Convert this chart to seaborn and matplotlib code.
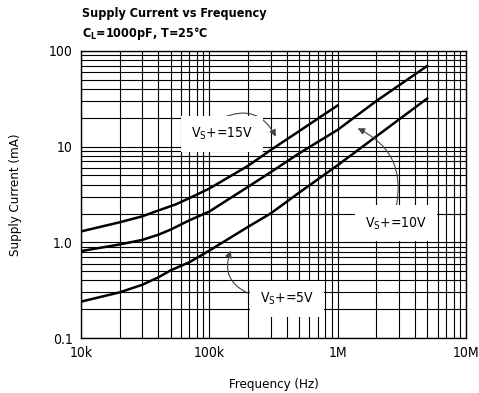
import matplotlib
matplotlib.use("Agg")
import matplotlib.pyplot as plt
import seaborn as sns
import pandas as pd
import numpy as np
from matplotlib.ticker import FixedLocator, NullFormatter, LogLocator

# ---- data ----
freq_15v = [1e4, 2e4, 3e4, 4e4, 5.5e4, 7e4, 1e5, 2e5, 3e5, 5e5, 1e6]
curr_15v = [1.3, 1.62, 1.87, 2.15, 2.5, 2.9, 3.65, 6.3, 9.2, 14.5, 27]
freq_10v = [1e4, 2e4, 3e4, 4e4, 5e4, 7e4, 1e5, 2e5, 3e5, 5e5, 1e6, 2e6, 5e6]
curr_10v = [0.81, 0.95, 1.06, 1.2, 1.36, 1.7, 2.1, 3.8, 5.4, 8.5, 15, 30, 70]
freq_5v = [1e4, 2e4, 3e4, 4e4, 5e4, 7e4, 1e5, 2e5, 3e5, 5e5, 1e6, 2e6, 5e6]
curr_5v = [0.24, 0.30, 0.36, 0.43, 0.51, 0.62, 0.82, 1.45, 2.0, 3.3, 6.4, 12.8, 32]
series = ["15V", "10V", "5V"]

x_ticks = [1e4, 1e5, 1e6, 1e7]
x_labels = ["10k", "100k", "1M", "10M"]
y_ticks = [0.1, 1, 10, 100]
y_labels = ["0.1", "1.0", "10", "100"]

df = pd.concat([
    pd.DataFrame({"f": freq_15v, "i": curr_15v, "s": series[0]}),
    pd.DataFrame({"f": freq_10v, "i": curr_10v, "s": series[1]}),
    pd.DataFrame({"f": freq_5v, "i": curr_5v, "s": series[2]}),
])

sns.set_theme(style="white")
plt.rcParams["font.family"] = ["DejaVu Sans"]
plt.rcParams["font.stretch"] = "condensed"
plt.rcParams["mathtext.fontset"] = "custom"
plt.rcParams["mathtext.rm"] = "DejaVu Sans:stretch=condensed"
plt.rcParams["mathtext.it"] = "DejaVu Sans:stretch=condensed"
plt.rcParams["mathtext.bf"] = "DejaVu Sans:stretch=condensed:weight=bold"
for k in ["text.color", "axes.labelcolor", "xtick.color", "ytick.color"]:
    plt.rcParams[k] = "black"

FS = 9.5

fig = plt.figure(figsize=(4.79, 3.93), dpi=100)
ax = fig.add_axes([81/479, 1-338/393, (466-81)/479, (338-51)/393])

ax.set_xscale("log")
ax.set_yscale("log")
ax.set_xlim(1e4, 1e7)
ax.set_ylim(0.1, 100)

ax.xaxis.set_major_locator(FixedLocator(x_ticks))
ax.yaxis.set_major_locator(FixedLocator(y_ticks))
ax.xaxis.set_minor_locator(LogLocator(base=10, subs=np.arange(2, 10)))
ax.yaxis.set_minor_locator(LogLocator(base=10, subs=np.arange(2, 10)))
ax.xaxis.set_minor_formatter(NullFormatter())
ax.yaxis.set_minor_formatter(NullFormatter())
ax.set_xticklabels(x_labels)
ax.set_yticklabels(y_labels)
ax.grid(True, which="both", color="black", lw=0.8)
ax.set_axisbelow(True)
ax.tick_params(which="both", length=0, labelsize=FS + 0.5, colors="black", pad=6)
for s in ax.spines.values():
    s.set_color("black")
    s.set_linewidth(1.0)

sns.lineplot(data=df, x="f", y="i", hue="s", palette=["black"] * 3,
             legend=False, ax=ax, lw=1.8, estimator=None, sort=False)

ax.set_xlabel("Frequency (Hz)", fontsize=FS, labelpad=13)
ax.set_ylabel("Supply Current (mA)", fontsize=FS, labelpad=19)

fig.text(82/479, 1-14/393, "Supply Current vs Frequency", fontsize=9,
         fontweight="bold", va="center", ha="left")
fig.text(82/479, 1-33/393, r"C$_\mathregular{L}$=1000pF, T=25°C", fontsize=9,
         fontweight="bold", va="center", ha="left")

bbox = dict(boxstyle="square,pad=0.7", fc="white", ec="none")
arrow = dict(arrowstyle="-|>", color="#444444", lw=0.8, mutation_scale=10)

ax.annotate("", xy=(3.37e5, 12.0), xytext=(1.21e5, 19.4),
            arrowprops=dict(arrow, connectionstyle="arc3,rad=-0.5"), zorder=5)
ax.text(1.256e5, 13.5, r"V$_\mathregular{S}$+=15V", fontsize=FS + 0.5, ha="center",
        va="center", bbox=bbox, zorder=6)

ax.annotate("", xy=(1.37e6, 16.0), xytext=(2.85e6, 2.3),
            arrowprops=dict(arrow, connectionstyle="arc3,rad=0.4"), zorder=5)
ax.text(2.85e6, 1.58, r"V$_\mathregular{S}$+=10V", fontsize=FS + 0.5, ha="center",
        va="center", bbox=bbox, zorder=6)

ax.annotate("", xy=(1.5e5, 0.87), xytext=(2.08e5, 0.287),
            arrowprops=dict(arrow, connectionstyle="arc3,rad=-0.5"), zorder=5)
ax.text(4.03e5, 0.255, r"V$_\mathregular{S}$+=5V", fontsize=FS + 0.5, ha="center",
        va="center", bbox=bbox, zorder=6)

fig.savefig("out.png", dpi=100, facecolor="white")
